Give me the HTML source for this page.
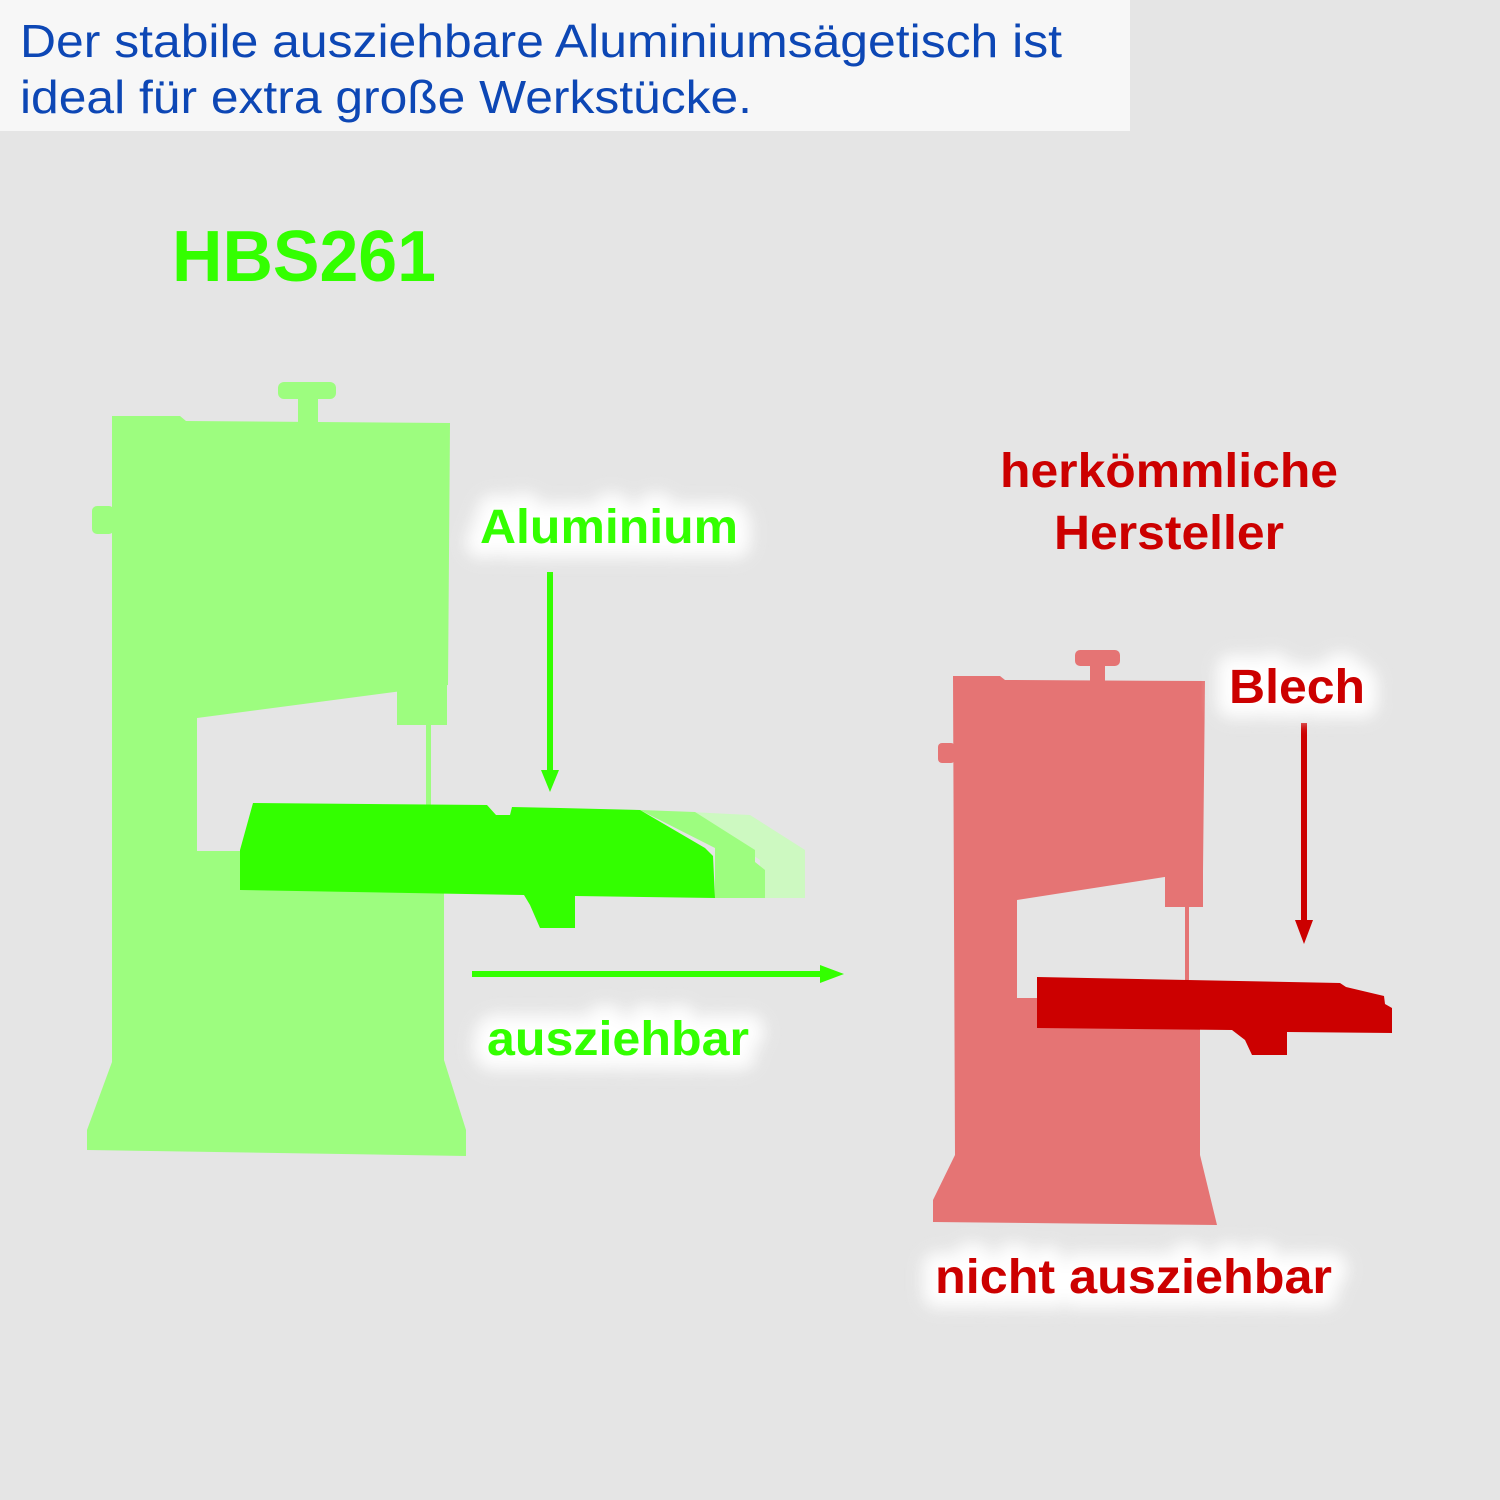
<!DOCTYPE html>
<html><head><meta charset="utf-8"><style>
html,body{margin:0;padding:0;background:#e5e5e5;}
svg{display:block;}
text{font-family:"Liberation Sans",Arial,sans-serif;}
</style></head><body>
<svg width="1500" height="1500" viewBox="0 0 1500 1500" xmlns="http://www.w3.org/2000/svg">
<defs>
<filter id="glow" x="-20%" y="-60%" width="140%" height="220%"><feGaussianBlur stdDeviation="7"/></filter>
</defs>
<rect width="1500" height="1500" fill="#e5e5e5"/>
<rect x="0" y="0" width="1130" height="131" fill="#f7f7f7"/>
<text x="20" y="57" font-size="46" fill="#0d47b5" textLength="1042" lengthAdjust="spacingAndGlyphs">Der stabile ausziehbare Aluminiumsägetisch ist</text>
<text x="20" y="113" font-size="46" fill="#0d47b5" textLength="732" lengthAdjust="spacingAndGlyphs">ideal für extra große Werkstücke.</text>
<text x="172" y="281" font-size="72" font-weight="bold" fill="#33ff00" textLength="264" lengthAdjust="spacingAndGlyphs">HBS261</text>

<g fill="#9dfd7f">
<polygon points="112,416 180,416 186,421 450,423 448,685 197,718 197,851 444,851 444,1060 466,1130 466,1156 87,1150 87,1130 112,1062"/>
<rect x="278" y="382" width="58" height="17" rx="6"/>
<rect x="298" y="396" width="20" height="28"/>
<rect x="92" y="506" width="22" height="28" rx="5"/>
<rect x="397" y="683" width="50" height="42"/>
<rect x="426" y="720" width="5" height="90"/>
</g>
<polygon points="690,812 750,815 805,850 805,898 760,898 760,860" fill="#cdf9c1"/>
<polygon points="640,810 695,812 755,850 755,862 765,870 765,898 715,898 715,848" fill="#9dfd7f"/>
<polygon points="253,803 487,805 496,815 510,815 512,807 560,808 640,810 705,848 713,856 715,898 575,896 575,928 540,928 530,905 524,895 240,890 240,850" fill="#33ff00"/>

<rect x="547" y="572" width="6" height="200" fill="#33ff00"/>
<polygon points="541,770 559,770 550,792" fill="#33ff00"/>
<rect x="472" y="971" width="350" height="6" fill="#33ff00"/>
<polygon points="820,965 820,983 844,974" fill="#33ff00"/>

<g font-size="48" font-weight="bold">
<text x="480" y="543" fill="#fff" stroke="#f4f4f4" stroke-width="36" stroke-linejoin="round" filter="url(#glow)" opacity="0.8" textLength="258" lengthAdjust="spacingAndGlyphs">Aluminium</text>
<text x="480" y="543" fill="#fff" stroke="#fff" stroke-width="20" stroke-linejoin="round" filter="url(#glow)" textLength="258" lengthAdjust="spacingAndGlyphs">Aluminium</text>
<text x="480" y="543" fill="#33ff00" textLength="258" lengthAdjust="spacingAndGlyphs">Aluminium</text>
<text x="487" y="1055" fill="#fff" stroke="#f4f4f4" stroke-width="36" stroke-linejoin="round" filter="url(#glow)" opacity="0.8" textLength="262" lengthAdjust="spacingAndGlyphs">ausziehbar</text>
<text x="487" y="1055" fill="#fff" stroke="#fff" stroke-width="20" stroke-linejoin="round" filter="url(#glow)" textLength="262" lengthAdjust="spacingAndGlyphs">ausziehbar</text>
<text x="487" y="1055" fill="#33ff00" textLength="262" lengthAdjust="spacingAndGlyphs">ausziehbar</text>

<text x="1000" y="487" fill="#cc0000" textLength="338" lengthAdjust="spacingAndGlyphs">herkömmliche</text>
<text x="1054" y="549" fill="#cc0000" textLength="230" lengthAdjust="spacingAndGlyphs">Hersteller</text>
</g>
<g fill="#e57474">
<polygon points="953,676 1000,676 1005,680 1205,681 1203,871 1017,900 1017,998 1200,998 1200,1155 1217,1225 933,1222 933,1200 955,1155"/>
<rect x="1075" y="650" width="45" height="16" rx="5"/>
<rect x="1090" y="662" width="15" height="20"/>
<rect x="938" y="743" width="17" height="20" rx="4"/>
<rect x="1165" y="870" width="38" height="37"/>
<rect x="1185" y="905" width="4" height="75"/>
</g>
<polygon points="1037,977 1340,983 1346,987 1384,996 1385,1004 1392,1008 1392,1033 1287,1032 1287,1055 1252,1055 1245,1040 1232,1030 1037,1028" fill="#cc0000"/>
<rect x="1301" y="723" width="6" height="200" fill="#cc0000"/>
<polygon points="1295,920 1313,920 1304,944" fill="#cc0000"/>
<g font-size="48" font-weight="bold">
<text x="1229" y="703" fill="#fff" stroke="#f4f4f4" stroke-width="36" stroke-linejoin="round" filter="url(#glow)" opacity="0.8" textLength="136" lengthAdjust="spacingAndGlyphs">Blech</text>
<text x="1229" y="703" fill="#fff" stroke="#fff" stroke-width="20" stroke-linejoin="round" filter="url(#glow)" textLength="136" lengthAdjust="spacingAndGlyphs">Blech</text>
<text x="1229" y="703" fill="#cc0000" textLength="136" lengthAdjust="spacingAndGlyphs">Blech</text>
<text x="935" y="1293" fill="#fff" stroke="#f4f4f4" stroke-width="36" stroke-linejoin="round" filter="url(#glow)" opacity="0.8" textLength="397" lengthAdjust="spacingAndGlyphs">nicht ausziehbar</text>
<text x="935" y="1293" fill="#fff" stroke="#fff" stroke-width="20" stroke-linejoin="round" filter="url(#glow)" textLength="397" lengthAdjust="spacingAndGlyphs">nicht ausziehbar</text>
<text x="935" y="1293" fill="#cc0000" textLength="397" lengthAdjust="spacingAndGlyphs">nicht ausziehbar</text>
</g>
</svg>
</body></html>
